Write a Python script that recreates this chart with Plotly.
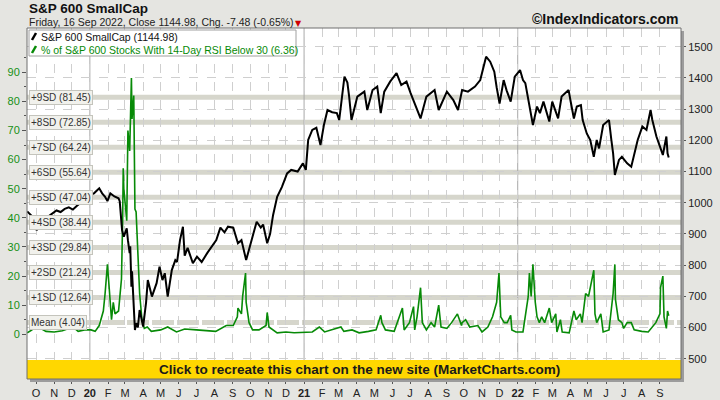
import plotly.graph_objects as go

# ---------------- data ----------------
price_dates = ["2019-09-16","2019-09-20","2019-09-25","2019-10-02","2019-10-08","2019-10-14","2019-10-22","2019-10-29",
"2019-11-05","2019-11-12","2019-11-19","2019-11-26","2019-12-03","2019-12-10","2019-12-17","2019-12-26",
"2020-01-02","2020-01-08","2020-01-17","2020-01-22","2020-01-27","2020-01-31","2020-02-05","2020-02-12",
"2020-02-19","2020-02-21","2020-02-25","2020-02-28","2020-03-04","2020-03-06","2020-03-09","2020-03-10",
"2020-03-12","2020-03-13","2020-03-16","2020-03-18","2020-03-20","2020-03-23","2020-03-26","2020-03-30",
"2020-04-01","2020-04-06","2020-04-09","2020-04-16","2020-04-24","2020-04-29","2020-05-04","2020-05-08",
"2020-05-13","2020-05-20","2020-05-26","2020-05-29","2020-06-03","2020-06-08","2020-06-11","2020-06-16",
"2020-06-25","2020-07-02","2020-07-10","2020-07-20","2020-07-28","2020-08-04","2020-08-11","2020-08-18",
"2020-08-24","2020-09-02","2020-09-10","2020-09-16","2020-09-24","2020-10-01","2020-10-07","2020-10-12",
"2020-10-19","2020-10-23","2020-10-30","2020-11-04","2020-11-09","2020-11-16","2020-11-24","2020-12-03",
"2020-12-10","2020-12-21","2020-12-30","2021-01-04","2021-01-08","2021-01-15","2021-01-22","2021-01-29",
"2021-02-04","2021-02-10","2021-02-18","2021-02-26","2021-03-02","2021-03-11","2021-03-16","2021-03-19",
"2021-03-23","2021-04-02","2021-04-09","2021-04-14","2021-04-19","2021-04-28","2021-05-06","2021-05-12",
"2021-05-18","2021-05-28","2021-06-08","2021-06-16","2021-06-25","2021-07-02","2021-07-19","2021-07-29",
"2021-08-12","2021-08-19","2021-09-02","2021-09-13","2021-09-21","2021-09-28","2021-10-08","2021-10-20",
"2021-10-29","2021-11-08","2021-11-15","2021-11-22","2021-11-26","2021-12-01","2021-12-08","2021-12-13",
"2021-12-20","2021-12-27","2022-01-05","2022-01-10","2022-01-14","2022-01-19","2022-01-21","2022-01-27",
"2022-02-03","2022-02-08","2022-02-14","2022-02-18","2022-02-24","2022-03-01","2022-03-07","2022-03-11",
"2022-03-17","2022-03-29","2022-04-01","2022-04-07","2022-04-12","2022-04-19","2022-04-22","2022-04-29",
"2022-05-05","2022-05-11","2022-05-16","2022-05-20","2022-05-27","2022-06-06","2022-06-10","2022-06-13",
"2022-06-16","2022-06-23","2022-06-28","2022-07-07","2022-07-14","2022-07-19","2022-07-25","2022-08-02",
"2022-08-09","2022-08-16","2022-08-19","2022-08-26","2022-09-06","2022-09-12","2022-09-14","2022-09-16"]
price_values = [972,965,955,912,925,945,955,965,
975,970,980,985,978,990,1000,1015,
1025,1030,1046,1030,1019,1005,1030,1020,
1014,1005,912,891,918,880,838,860,
731,780,645,592,614,600,656,624,
603,680,752,699,742,795,752,774,
699,784,816,810,880,923,830,855,
806,827,810,840,860,880,920,905,
923,920,870,880,816,860,905,939,
920,930,870,900,960,1019,1050,1094,
1105,1100,1126,1105,1201,1233,1240,1185,
1250,1297,1290,1287,1265,1404,1385,1340,
1265,1340,1351,1356,1297,1361,1372,1287,
1356,1388,1415,1377,1388,1351,1270,1340,
1361,1297,1356,1329,1297,1361,1356,1372,
1393,1468,1452,1420,1370,1318,1393,1360,
1324,1404,1425,1393,1383,1330,1308,1249,
1308,1287,1324,1297,1260,1324,1287,1270,
1340,1361,1329,1270,1308,1313,1265,1222,
1201,1147,1201,1174,1249,1265,1201,1158,
1089,1137,1147,1126,1115,1158,1201,1244,
1233,1297,1265,1212,1153,1212,1158,1144.98]

rsi_dates = ["2019-09-16","2019-09-24","2019-10-02","2019-10-09","2019-10-18","2019-11-01","2019-11-15","2019-12-03",
"2019-12-12","2019-12-23","2020-01-03","2020-01-10","2020-01-17","2020-01-24","2020-01-27","2020-01-31",
"2020-02-03","2020-02-07","2020-02-10","2020-02-13","2020-02-19","2020-02-24","2020-02-26","2020-02-27",
"2020-02-28","2020-03-04","2020-03-06","2020-03-09","2020-03-12","2020-03-13","2020-03-16","2020-03-18",
"2020-03-20","2020-03-23","2020-03-26","2020-03-30","2020-04-03","2020-04-08","2020-04-15","2020-05-01",
"2020-05-13","2020-05-28","2020-06-11","2020-07-01","2020-08-03","2020-08-21","2020-09-02","2020-09-09",
"2020-09-10","2020-09-16","2020-09-18","2020-09-23","2020-09-24","2020-09-29","2020-10-05","2020-10-16",
"2020-10-28","2020-10-30","2020-11-02","2020-11-16","2020-12-01","2020-12-15","2021-01-15","2021-01-27",
"2021-02-05","2021-03-05","2021-03-10","2021-03-24","2021-04-05","2021-04-21","2021-05-04","2021-05-12",
"2021-05-14","2021-05-20","2021-06-04","2021-06-18","2021-06-21","2021-06-30","2021-07-07","2021-07-09",
"2021-07-13","2021-07-19","2021-07-22","2021-07-29","2021-08-06","2021-08-12","2021-08-19","2021-08-23",
"2021-09-02","2021-09-10","2021-09-20","2021-09-27","2021-09-28","2021-10-04","2021-10-11","2021-10-25",
"2021-11-01","2021-11-11","2021-11-19","2021-11-26","2021-11-30","2021-12-03","2021-12-09","2021-12-14",
"2021-12-20","2021-12-22","2021-12-29","2022-01-10","2022-01-13","2022-01-19","2022-01-21","2022-01-24",
"2022-01-27","2022-01-31","2022-02-03","2022-02-07","2022-02-11","2022-02-16","2022-02-24","2022-02-28",
"2022-03-07","2022-03-09","2022-03-15","2022-03-18","2022-03-30","2022-04-07","2022-04-11","2022-04-18",
"2022-04-21","2022-04-27","2022-05-02","2022-05-06","2022-05-11","2022-05-13","2022-05-16","2022-05-23",
"2022-05-27","2022-06-06","2022-06-13","2022-06-16","2022-06-17","2022-06-22","2022-06-28","2022-07-01",
"2022-07-07","2022-07-14","2022-07-19","2022-08-01","2022-08-12","2022-08-25","2022-09-01","2022-09-02",
"2022-09-06","2022-09-08","2022-09-12","2022-09-14","2022-09-16"]
rsi_values = [0.5,1.5,4.5,2,1,0.8,1.2,2.5,
1,1.5,1.5,1.0,3,8,14,24,
16,5,11,7,8,19,39,57,
50,39,70,63,88,74,82,43,
42,28,14,5,2,2.5,1,1.5,
2.5,0.8,1.8,1.5,1,3,3,6,
9,7,13,21,11,4,1.5,1.5,
3,7.5,2.5,0.5,0.8,0.5,0.8,2.5,
0.8,2.5,1,1.5,0.5,1,1.5,6.5,
4,1.5,1.0,9,1.5,4,9.5,1.5,
6,16,4,1.5,4,2.5,10,2.5,
2,4,7,3,4,5,2.5,3,
0.8,2.5,6,11,21,6,4,4,
6.5,1.5,0.8,0.8,5,13,21,13,
24,11,6,4,6,4,9,4,
7,0.8,5,0.8,0.5,8,5,7,
4,14,13,17.5,22,7,4,7,
0.8,1.5,14,24,12,5,4,2,
4,4,1.5,1,0.8,4,7,16,
20,6,2,8,6.36]

sd_labels = ["Mean (4.04)","+1SD (12.64)","+2SD (21.24)","+3SD (29.84)","+4SD (38.44)",
             "+5SD (47.04)","+6SD (55.64)","+7SD (64.24)","+8SD (72.85)","+9SD (81.45)"]
sd_values = [4.04,12.64,21.24,29.84,38.44,47.04,55.64,64.24,72.85,81.45]

month_ticks = ["2019-10-01","2019-11-01","2019-12-01","2020-01-01","2020-02-01","2020-03-01","2020-04-01",
"2020-05-01","2020-06-01","2020-07-01","2020-08-01","2020-09-01","2020-10-01","2020-11-01","2020-12-01",
"2021-01-01","2021-02-01","2021-03-01","2021-04-01","2021-05-01","2021-06-01","2021-07-01","2021-08-01",
"2021-09-01","2021-10-01","2021-11-01","2021-12-01","2022-01-01","2022-02-01","2022-03-01","2022-04-01",
"2022-05-01","2022-06-01","2022-07-01","2022-08-01","2022-09-01"]
month_labels = ["O","N","D","<b>20</b>","F","M","A","M","J","J","A","S","O","N","D",
"<b>21</b>","F","M","A","M","J","J","A","S","O","N","D",
"<b>22</b>","F","M","A","M","J","J","A","S"]
year_starts = ["2020-01-01","2021-01-01","2022-01-01"]

left_ticks = [0,10,20,30,40,50,60,70,80,90]
right_ticks = [500,600,700,800,900,1000,1100,1200,1300,1400,1500]

# ---------------- layout helpers ----------------
W, H = 720, 400
ML, MR, MT, MB = 27, 39, 28, 21
PW, PH = W - ML - MR, H - MT - MB
def px(xp):
    return (xp - ML) / PW
def py(yp):
    return (H - MB - yp) / PH

FONT = "Liberation Sans, Arial, sans-serif"
GREEN = "#078a07"

fig = go.Figure()
fig.add_trace(go.Scatter(x=rsi_dates, y=rsi_values, mode="lines", yaxis="y",
                         line=dict(color=GREEN, width=1.6), hoverinfo="skip",
                         name="% of S&P 600 Stocks With 14-Day RSI Below 30"))
fig.add_trace(go.Scatter(x=price_dates, y=price_values, mode="lines", yaxis="y2",
                         line=dict(color="#000000", width=2), hoverinfo="skip",
                         name="S&P 600 SmallCap"))

shapes = []
for lab, v in zip(sd_labels, sd_values):
    shapes.append(dict(type="line", xref="paper", x0=0, x1=1, yref="y", y0=v, y1=v,
                       line=dict(color="#d6d6cc", width=5,
                                 dash="22px,3px" if lab.startswith("Mean") else "solid"),
                       layer="below"))
for d in year_starts:
    shapes.append(dict(type="line", xref="x", x0=d, x1=d, yref="paper", y0=0, y1=1,
                       line=dict(color="#a8a8a8", width=1), layer="below"))
shapes.append(dict(type="rect", xref="paper", x0=0, x1=1, yref="paper", y0=0, y1=py(360),
                   fillcolor="#ffd700", line=dict(width=0), layer="above"))
shapes.append(dict(type="rect", xref="paper", x0=1, x1=px(ML + PW + 3), yref="paper", y0=py(H - MB + 3), y1=py(MT + 3),
                   fillcolor="#9c9c9c", line=dict(width=0), layer="above"))
shapes.append(dict(type="rect", xref="paper", x0=px(ML + 3), x1=px(ML + PW + 3), yref="paper", y0=py(H - MB + 3), y1=0,
                   fillcolor="#9c9c9c", line=dict(width=0), layer="above"))
shapes.append(dict(type="rect", xref="paper", x0=0, x1=1, yref="paper", y0=0, y1=1,
                   line=dict(color="#6e6e6e", width=1), layer="above"))
shapes.append(dict(type="rect", xref="paper", x0=px(29), x1=px(296), yref="paper", y0=py(56), y1=py(30),
                   fillcolor="white", line=dict(color="#a0a0a0", width=1), layer="above"))
shapes.append(dict(type="line", xref="paper", x0=px(32), x1=px(36), yref="paper", y0=py(40), y1=py(33),
                   line=dict(color="#000000", width=2.5), layer="above"))
shapes.append(dict(type="line", xref="paper", x0=px(32), x1=px(36), yref="paper", y0=py(53), y1=py(46),
                   line=dict(color=GREEN, width=2.5), layer="above"))

ann = []
ann.append(dict(text="<b>S&P 600 SmallCap</b>", xref="paper", yref="paper", x=px(27), y=py(8.5),
                xanchor="left", yanchor="middle", showarrow=False,
                font=dict(family=FONT, size=13.5, color="#111")))
ann.append(dict(text="Friday, 16 Sep 2022, Close 1144.98, Chg. -7.48 (-0.65%)", xref="paper", yref="paper",
                x=px(27), y=py(22.5), xanchor="left", yanchor="middle", showarrow=False,
                font=dict(family=FONT, size=10.5, color="#222")))
ann.append(dict(text="▼", xref="paper", yref="paper", x=px(293), y=py(23.5), xanchor="left", yanchor="middle",
                showarrow=False, font=dict(family="DejaVu Sans", size=8, color="#d00000")))
ann.append(dict(text="<b>©IndexIndicators.com</b>", xref="paper", yref="paper", x=px(680), y=py(19),
                xanchor="right", yanchor="middle", showarrow=False,
                font=dict(family=FONT, size=14, color="#111")))
ann.append(dict(text="S&P 600 SmallCap (1144.98)", xref="paper", yref="paper", x=px(39), y=py(36.5),
                xanchor="left", yanchor="middle", showarrow=False,
                font=dict(family=FONT, size=10.5, color="#111")))
ann.append(dict(text="% of S&P 600 Stocks With 14-Day RSI Below 30 (6.36)", xref="paper", yref="paper",
                x=px(39), y=py(49.5), xanchor="left", yanchor="middle", showarrow=False,
                font=dict(family=FONT, size=10.5, color=GREEN)))
for lab, v in zip(sd_labels, sd_values):
    ann.append(dict(text=lab, xref="paper", yref="y", x=px(29), y=v, xanchor="left", yanchor="middle",
                    showarrow=False, bgcolor="#f1f1ec", bordercolor="#c4c4bc", borderwidth=1, borderpad=1,
                    font=dict(family=FONT, size=10, color="#333")))
ann.append(dict(text="<b>Click to recreate this chart on the new site (MarketCharts.com)</b>", xref="paper",
                yref="paper", x=px(359), y=py(369.5), xanchor="center", yanchor="middle", showarrow=False,
                font=dict(family=FONT, size=13.5, color="#1a1a1a")))

fig.update_layout(
    width=W, height=H, margin=dict(l=ML, r=MR, t=MT, b=MB, autoexpand=False),
    paper_bgcolor="#e5e5e1", plot_bgcolor="white", showlegend=False,
    font=dict(family=FONT, size=10.5, color="#222"),
    xaxis=dict(range=["2019-09-15 14:00", "2022-10-07"], tickvals=month_ticks, ticktext=month_labels,
               ticks="outside", ticklen=4, tickcolor="#555", showgrid=True, gridcolor="#cfcfcf",
               griddash="dash", gridwidth=1, zeroline=False, showline=False, automargin=False,
               tickfont=dict(family=FONT, size=11, color="#222")),
    yaxis=dict(range=[-15.36, 105.2], tickvals=left_ticks, ticks="outside", ticklen=4, tickcolor="#555",
               showgrid=False, zeroline=False, showline=False, automargin=False,
               minor=dict(tickvals=[5, 15, 25, 35, 45, 55, 65, 75, 85, 95], ticks="outside", ticklen=2,
                          tickcolor="#555", showgrid=False),
               tickfont=dict(family=FONT, size=11, color="#159015")),
    yaxis2=dict(range=[434.9, 1559.9], overlaying="y", side="right", tickvals=right_ticks,
                ticks="outside", ticklen=4, tickcolor="#555", showgrid=True, gridcolor="#cfcfcf",
                griddash="dash", gridwidth=1, zeroline=False, showline=False, automargin=False,
                minor=dict(tickvals=[450, 550, 650, 750, 850, 950, 1050, 1150, 1250, 1350, 1450, 1550],
                           ticks="outside", ticklen=2, tickcolor="#555", showgrid=False),
                tickfont=dict(family=FONT, size=11, color="#222")),
    shapes=shapes, annotations=ann,
)

fig.write_html("out.html", config={"displayModeBar": False},
               post_script="document.body.style.margin='0';document.body.style.overflow='hidden';")
